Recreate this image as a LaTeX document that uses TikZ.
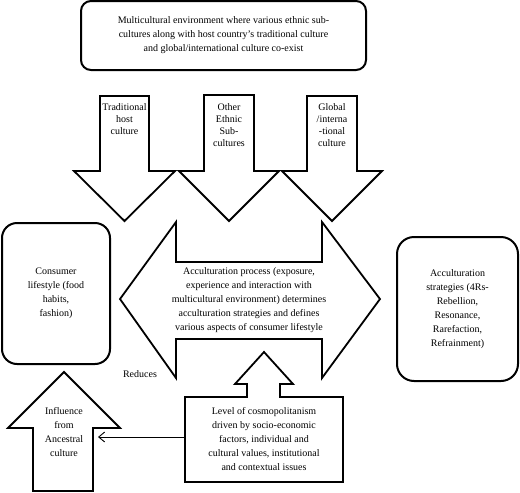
\documentclass[tikz,border=0pt]{standalone}
\usepackage{fontspec}
\setmainfont{Liberation Serif}
\usetikzlibrary{arrows.meta}
\begin{document}
\begin{tikzpicture}[x=1pt,y=-1pt,
  blockarrow/.style={draw=black,line width=1.8pt,line join=miter,fill=white},
  roundbox/.style={draw=black,line width=2pt,fill=white,align=center,inner sep=2pt,font=\fontsize{10}{14}\selectfont},
  label/.style={align=center,inner sep=0pt,font=\fontsize{10}{14}\selectfont},
  smalllabel/.style={align=center,inner sep=0pt,font=\fontsize{10}{12}\selectfont},
  thinarrow/.style={line width=0.9pt,-{Straight Barb[length=6pt,width=10pt,line width=0.9pt]}}
]
\useasboundingbox (0,0) rectangle (520,493);

% top box
\node[roundbox,rounded corners=10pt,minimum width=285pt,minimum height=69pt] (top) at (223.5,35.5)
  {Multicultural environment where various ethnic sub-\\cultures along with host country's traditional culture\\and global/international culture co-exist};

% down arrows
\draw[blockarrow] (100,96)--(149,96)--(149,171)--(175,171)--(124.5,221)--(74,171)--(100,171)--cycle;
\draw[blockarrow] (204,95)--(254,95)--(254,171)--(279,171)--(229,221)--(179,171)--(204,171)--cycle;
\draw[blockarrow] (307,96)--(357,96)--(357,171)--(382,171)--(332,221)--(282,171)--(307,171)--cycle;
\node[smalllabel] (trad) at (124.5,119) {Traditional\\host\\culture};
\node[smalllabel] (other) at (229,125) {Other\\Ethnic\\Sub-\\cultures};
\node[smalllabel] (glob) at (332,125) {Global\\/interna\\-tional\\culture};

% double arrow
\draw[blockarrow] (120,299)--(176,222)--(176,262)--(322,262)--(322,222)--(380,299)--(322,378)--(322,339)--(176,339)--(176,378)--cycle;
\node[label] (accult) at (249,300) {Acculturation process (exposure,\\experience and interaction with\\multicultural environment) determines\\acculturation strategies and defines\\various aspects of consumer lifestyle};

% side boxes
\node[roundbox,rounded corners=15pt,minimum width=108pt,minimum height=141pt] (consumer) at (56,293.5)
  {Consumer\\lifestyle (food\\habits,\\fashion)};
\node[roundbox,rounded corners=17pt,minimum width=121pt,minimum height=144pt] (strat) at (457.5,309)
  {Acculturation\\strategies (4Rs-\\Rebellion,\\Resonance,\\Rarefaction,\\Refrainment)};

% cosmopolitanism box with up arrow
\draw[blockarrow] (185,397)--(247,397)--(247,384)--(235,384)--(264,352)--(293,384)--(280,384)--(280,397)--(343,397)--(343,482)--(185,482)--cycle;
\node[label] (cosmo) at (264,439) {Level of cosmopolitanism\\driven by socio-economic\\factors, individual and\\cultural values, institutional\\and contextual issues};

% ancestral up arrow
\draw[blockarrow] (33,491)--(33,428)--(8,428)--(64,372)--(120,428)--(93,428)--(93,491)--cycle;
\node[label] (ancest) at (64,432) {Influence\\from\\Ancestral\\culture};

% connector
\coordinate (cosmoW) at (184,437);
\coordinate (ancE) at (98,437);
\draw[thinarrow] (cosmoW) -- (ancE);
\node[label] (reduces) at (140,374) {Reduces};
\end{tikzpicture}
\end{document}
